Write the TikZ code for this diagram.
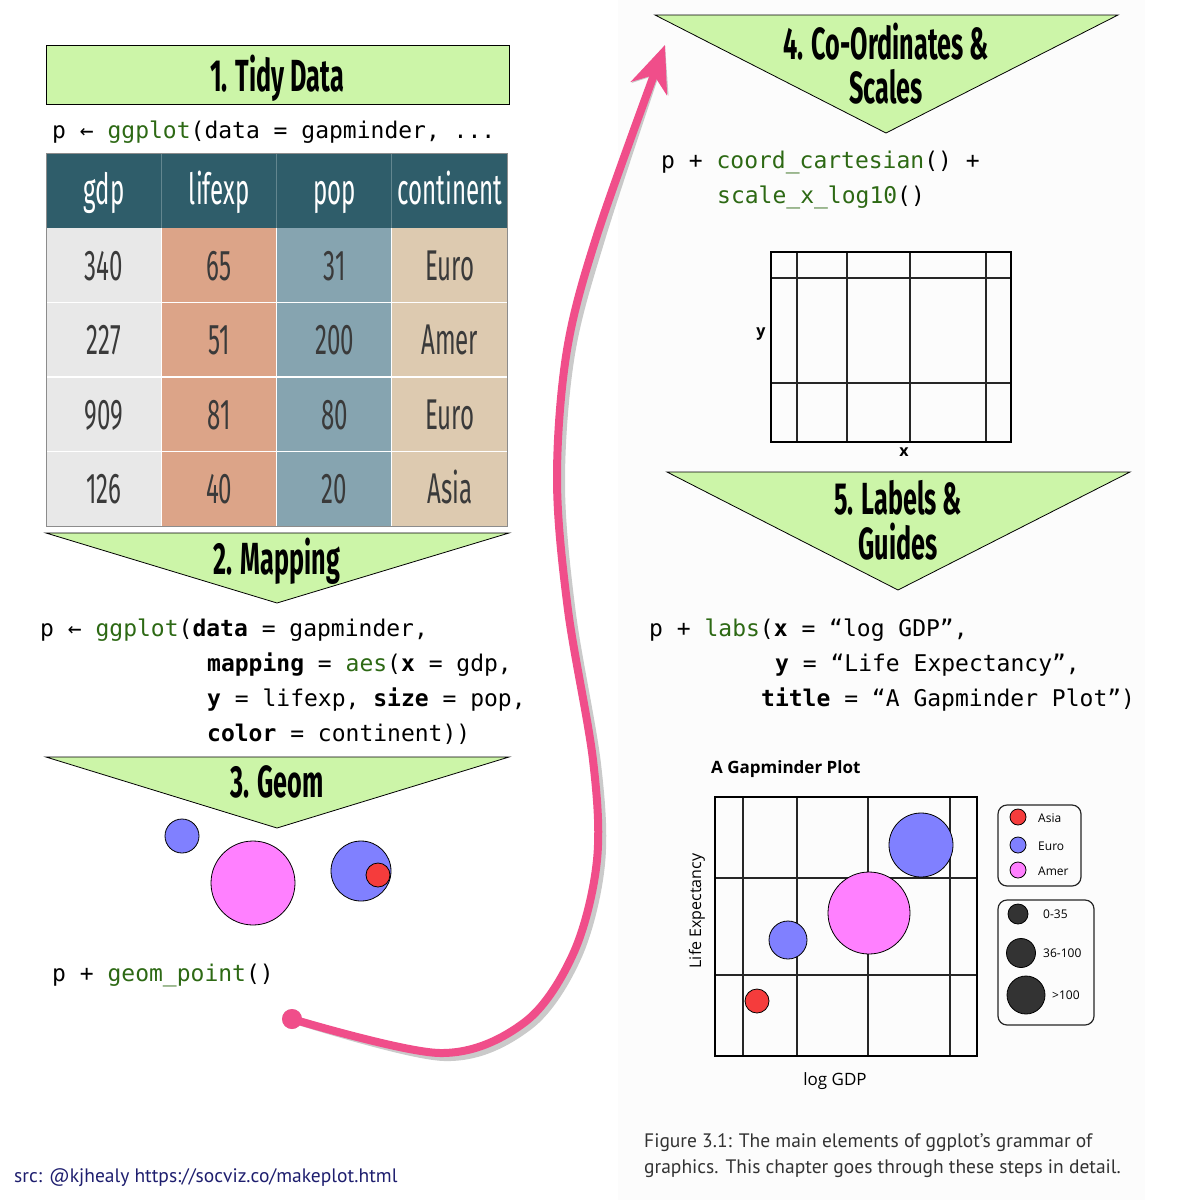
\documentclass[tikz,border=0pt]{standalone}
\usepackage{fontspec}
\setmainfont{Fira Sans}
\newfontfamily\headfont[FakeStretch=0.56]{Fira Sans}
\newfontfamily\codefont{DejaVu Sans Mono}
\newfontfamily\plotfont{Open Sans}
\newfontfamily\capfont{PT Sans}
\usetikzlibrary{arrows.meta}

\definecolor{stepgreen}{RGB}{204,245,168}
\definecolor{headteal}{RGB}{47,93,106}
\definecolor{colgrey}{RGB}{232,232,232}
\definecolor{colsalmon}{RGB}{220,164,136}
\definecolor{colsteel}{RGB}{134,164,176}
\definecolor{colbeige}{RGB}{221,202,176}
\definecolor{celltext}{RGB}{58,58,58}
\definecolor{codegreen}{RGB}{45,105,20}
\definecolor{arrowpink}{RGB}{240,78,138}
\definecolor{dotblue}{RGB}{128,128,255}
\definecolor{dotpink}{RGB}{255,128,255}
\definecolor{dotred}{RGB}{245,60,60}
\definecolor{srcblue}{RGB}{30,30,110}

% green function names and bold arguments in the code lines
\newcommand\ggfn[1]{\textcolor{codegreen}{#1}}
\newcommand\ggkw[1]{\textbf{#1}}

\begin{document}
\begin{tikzpicture}[x=1pt, y=-1pt,
    stepbox/.style={draw=black, line width=0.8pt, fill=stepgreen},
    steptext/.style={font=\headfont\bfseries\fontsize{45}{45}\selectfont, inner sep=0pt, anchor=base},
    code/.style={font=\codefont\fontsize{23}{35}\selectfont, anchor=base west, inner sep=0pt},
    cellhead/.style={font=\headfont\fontsize{43}{43}\selectfont, text=white, anchor=base, inner sep=0pt},
    cell/.style={font=\headfont\fontsize{43}{43}\selectfont, text=celltext, anchor=base, inner sep=0pt},
    dot/.style={draw=black, line width=0.8pt},
    gridline/.style={draw=black!85, line width=1.5pt},
    legendbox/.style={draw=black!85, line width=1.2pt, rounded corners=9pt},
    plottext/.style={font=\plotfont\fontsize{12}{12}\selectfont, anchor=west, inner sep=0pt},
    pinkarrow/.style={draw=arrowpink, line width=8pt, -{Stealth[length=46pt, width=38pt, inset=14pt]}}]

    \useasboundingbox (0,0) rectangle (1182,1200);
    \fill[black!1] (618,0) rectangle (1145,1200);

    % step 1: tidy data
    \draw[stepbox] (46,45) rectangle (509,104);
    \node[steptext] (step1) at (277,91) {1. Tidy Data};
    \node[code] (code1) at (52,138) {p ← \ggfn{ggplot}(data = gapminder, ...};

    % the data table, one colour per column
    \fill[headteal] (46,153) rectangle (507,228);
    \foreach \fillc [count=\ci from 0] in {colgrey,colsalmon,colsteel,colbeige}
        \fill[\fillc] ({46+\ci*115.25},228) rectangle +(115.25,298);
    \foreach \ri in {1,...,3}
        \draw[white, line width=1.2pt] (46,{228+\ri*74.5}) -- (507,{228+\ri*74.5});
    \foreach \ci in {1,...,3} {
        \draw[white, line width=1.2pt] ({46+\ci*115.25},228) -- ({46+\ci*115.25},526);
        \draw[headteal!75!white, line width=0.8pt] ({46+\ci*115.25},153) -- ({46+\ci*115.25},228);
    }
    \draw[black!45, line width=1pt] (46,153) rectangle (507,526);
    \foreach \h [count=\ci from 0] in {gdp,lifexp,pop,continent}
        \node[cellhead] (head-\ci) at ({104+\ci*115.25},204) {\h};
    \foreach \vals [count=\ri from 0] in {{340,65,31,Euro},{227,51,200,Amer},{909,81,80,Euro},{126,40,20,Asia}}
        \foreach \v [count=\ci from 0] in \vals
            \node[cell] (cell-\ri-\ci) at ({104+\ci*115.25},{280+\ri*74.5}) {\v};

    % step 2: mapping
    \draw[stepbox] (46,533) -- (509,533) -- (277,603) -- cycle;
    \node[steptext] (step2) at (277,574) {2. Mapping};
    \node[code] (code2a) at (40,636) {p ← \ggfn{ggplot}(\ggkw{data} = gapminder,};
    \node[code] (code2b) at (207,671) {\ggkw{mapping} = \ggfn{aes}(\ggkw{x} = gdp,};
    \node[code] (code2c) at (207,706) {\ggkw{y} = lifexp, \ggkw{size} = pop,};
    \node[code] (code2d) at (207,741) {\ggkw{color} = continent))};

    % step 3: geom
    \draw[stepbox] (46,757) -- (509,757) -- (277,828) -- cycle;
    \node[steptext] (step3) at (277,797) {3. Geom};
    \draw[dot, fill=dotblue] (182,836) circle (17pt);
    \draw[dot, fill=dotpink] (253,883) circle (42pt);
    \draw[dot, fill=dotblue] (361,871) circle (30pt);
    \draw[dot, fill=dotred] (378,875) circle (12pt);
    \node[code] (code3) at (52,981) {p + \ggfn{geom\_point}()};

    % pink arrow from step 3 up to step 4, grey shadow first
    \coordinate (arrstart) at (292,1019);
    \coordinate (arrend) at (665,45);
    \begin{scope}[xshift=4pt, yshift=-4pt, black!35, opacity=0.6]
        \fill (arrstart) circle (10pt);
        \draw[pinkarrow, draw=black!35] plot[smooth, tension=0.55] coordinates
            {(arrstart) (440,1053) (525,1022) (574,952) (597,860) (593,760) (568,610) (557,480) (567,350) (598,232) (arrend)};
    \end{scope}
    \fill[arrowpink] (arrstart) circle (10pt);
    \draw[pinkarrow] plot[smooth, tension=0.55] coordinates
        {(arrstart) (440,1053) (525,1022) (574,952) (597,860) (593,760) (568,610) (557,480) (567,350) (598,232) (arrend)};

    % step 4: co-ordinates and scales
    \draw[stepbox] (655,15) -- (1118,15) -- (886,133) -- cycle;
    \node[steptext] (step4a) at (886,59) {4. Co-Ordinates \&};
    \node[steptext] (step4b) at (886,103) {Scales};
    \node[code] (code4a) at (661,168) {p + \ggfn{coord\_cartesian}() +};
    \node[code] (code4b) at (717,203) {\ggfn{scale\_x\_log10}()};
    \foreach \gx in {797,847,910,986}
        \draw[gridline] (\gx,252) -- (\gx,442);
    \foreach \gy in {278,383}
        \draw[gridline] (771,\gy) -- (1011,\gy);
    \draw[black, line width=2.5pt] (771,252) rectangle (1011,442);
    \node[font=\plotfont\bfseries\fontsize{16}{16}\selectfont, inner sep=0pt] (ylab4) at (761,334) {y};
    \node[font=\plotfont\bfseries\fontsize{16}{16}\selectfont, inner sep=0pt] (xlab4) at (904,452) {x};

    % step 5: labels and guides
    \draw[stepbox] (667,472) -- (1130,472) -- (898,590) -- cycle;
    \node[steptext] (step5a) at (898,514) {5. Labels \&};
    \node[steptext] (step5b) at (898,559) {Guides};
    \node[code] (code5a) at (649,636) {p + \ggfn{labs}(\ggkw{x} = “log GDP”,};
    \node[code] (code5b) at (775,671) {\ggkw{y} = “Life Expectancy”,};
    \node[code] (code5c) at (761,706) {\ggkw{title} = “A Gapminder Plot”)};

    % the finished plot
    \node[font=\plotfont\bfseries\fontsize{17}{17}\selectfont, anchor=west, inner sep=0pt] (ptitle) at (711,769) {A Gapminder Plot};
    \foreach \gx in {743,797,868,950}
        \draw[gridline] (\gx,797) -- (\gx,1056);
    \foreach \gy in {878,975}
        \draw[gridline] (715,\gy) -- (977,\gy);
    \draw[dot, fill=dotblue] (921,845) circle (32pt);
    \draw[dot, fill=dotpink] (869,913) circle (41pt);
    \draw[dot, fill=dotblue] (788,940) circle (19pt);
    \draw[dot, fill=dotred] (757,1001) circle (12pt);
    \draw[black, line width=2.5pt] (715,797) rectangle (977,1056);
    \node[font=\plotfont\fontsize{16}{16}\selectfont, rotate=90, inner sep=0pt] (pylab) at (697,911) {Life Expectancy};
    \node[font=\plotfont\fontsize{17}{17}\selectfont, inner sep=0pt] (pxlab) at (835,1081) {log GDP};

    % legends
    \draw[legendbox] (998,805) rectangle (1081,886);
    \foreach \lc/\ly/\lt in {dotred/817/Asia, dotblue/845/Euro, dotpink/870/Amer} {
        \draw[dot, fill=\lc] (1018,\ly) circle (8pt);
        \node[plottext] (leg-\lt) at (1038,\ly+1) {\lt};
    }
    \draw[legendbox] (998,900) rectangle (1094,1025);
    \foreach \lx/\ly/\lr/\lt/\tx in {1018/914/10/0-35/1043, 1021/953/14.5/36-100/1043, 1026/995/19/>100/1052} {
        \draw[dot, fill=black!80] (\lx,\ly) circle (\lr pt);
        \node[plottext] (size-\lr) at (\tx,\ly) {\lt};
    }

    % caption and source
    \node[font=\capfont\fontsize{19.5}{26}\selectfont, text=black!80, anchor=base west, inner sep=0pt] (cap1) at (644,1147) {Figure 3.1: The main elements of ggplot’s grammar of};
    \node[font=\capfont\fontsize{19.5}{26}\selectfont, text=black!80, anchor=base west, inner sep=0pt] (cap2) at (644,1173) {graphics. This chapter goes through these steps in detail.};
    \node[font=\capfont\fontsize{19.5}{19.5}\selectfont, text=srcblue, anchor=base west, inner sep=0pt] (src) at (14,1182) {src: @kjhealy https://socviz.co/makeplot.html};
\end{tikzpicture}
\end{document}
